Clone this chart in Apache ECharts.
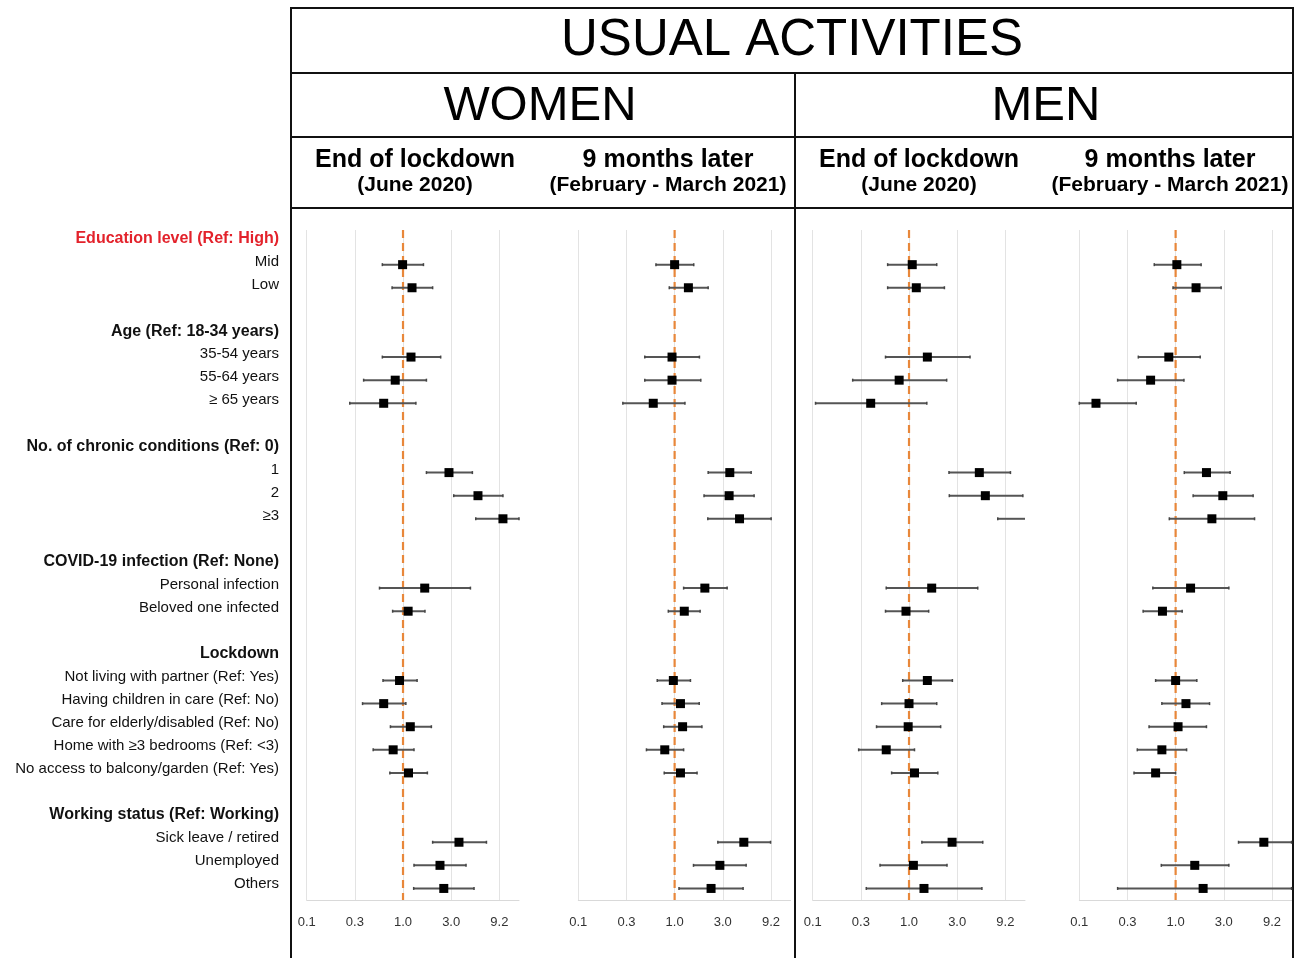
<!DOCTYPE html>
<html>
<head>
<meta charset="utf-8">
<script src="https://cdn.jsdelivr.net/npm/echarts@6/dist/echarts.min.js"></script>
<style>
html,body{margin:0;padding:0;background:#fff;}
#chart{width:1296px;height:958px;}
</style>
</head>
<body>
<div id="chart"></div>
<script>
// ---- Row labels (29 slots, '' = spacer) ----
const rowLabels = [
  'Education level (Ref: High)', 'Mid', 'Low', '',
  'Age (Ref: 18-34 years)', '35-54 years', '55-64 years', '≥ 65 years', '',
  'No. of chronic conditions (Ref: 0)', '1', '2', '≥3', '',
  'COVID-19 infection (Ref: None)', 'Personal infection', 'Beloved one infected', '',
  'Lockdown', 'Not living with partner (Ref: Yes)', 'Having children in care (Ref: No)',
  'Care for elderly/disabled (Ref: No)', 'Home with ≥3 bedrooms (Ref: <3)',
  'No access to balcony/garden (Ref: Yes)', '',
  'Working status (Ref: Working)', 'Sick leave / retired', 'Unemployed', 'Others'
];
const headerRows = [0, 4, 9, 14, 18, 25];
const redHeaderRows = [0];
const itemRows = [1, 2, 5, 6, 7, 10, 11, 12, 15, 16, 19, 20, 21, 22, 23, 26, 27, 28];

// ---- Tick labels ----
const tickLabels = ['0.1', '0.3', '1.0', '3.0', '9.2'];
const refValue = 1;

// ---- Women, end of lockdown (June 2020) ----
const womenEndOR = [0.99, 1.24, 1.21, 0.83, 0.63, 3.00, 6.00, 10.9, 1.68, 1.13, 0.92, 0.63, 1.19, 0.79, 1.14, 3.81, 2.42, 2.65];
const womenEndLo = [0.61, 0.77, 0.61, 0.39, 0.28, 1.75, 3.36, 5.69, 0.57, 0.78, 0.62, 0.38, 0.74, 0.49, 0.73, 2.03, 1.30, 1.29];
const womenEndHi = [1.63, 2.03, 2.46, 1.75, 1.36, 5.25, 10.9, 16.0, 5.01, 1.69, 1.40, 1.07, 1.97, 1.30, 1.79, 7.35, 4.51, 5.46];

// ---- Women, 9 months later ----
const women9OR = [1.00, 1.39, 0.94, 0.94, 0.60, 3.74, 3.68, 4.72, 2.06, 1.26, 0.97, 1.15, 1.21, 0.79, 1.15, 5.23, 2.95, 2.39];
const women9Lo = [0.64, 0.88, 0.49, 0.49, 0.29, 2.23, 2.02, 2.21, 1.24, 0.86, 0.66, 0.74, 0.77, 0.51, 0.78, 2.81, 1.57, 1.11];
const women9Hi = [1.58, 2.23, 1.81, 1.87, 1.28, 6.23, 6.69, 10.05, 3.51, 1.84, 1.46, 1.80, 1.92, 1.24, 1.71, 9.91, 5.53, 5.14];

// ---- Men, end of lockdown (June 2020) ----
const menEndOR = [1.08, 1.19, 1.55, 0.79, 0.40, 5.37, 6.20, 22.0, 1.72, 0.93, 1.55, 1.00, 0.98, 0.58, 1.14, 2.80, 1.11, 1.43];
const menEndLo = [0.60, 0.60, 0.57, 0.26, 0.107, 2.60, 2.62, 8.34, 0.58, 0.57, 0.86, 0.52, 0.46, 0.30, 0.66, 1.36, 0.50, 0.36];
const menEndHi = [1.94, 2.33, 4.30, 2.46, 1.53, 11.3, 15.2, 60.0, 5.17, 1.60, 2.82, 1.94, 2.13, 1.14, 1.99, 5.83, 2.48, 5.71];

// ---- Men, 9 months later ----
const men9OR = [1.03, 1.63, 0.85, 0.55, 0.149, 2.09, 3.09, 2.38, 1.43, 0.73, 1.00, 1.28, 1.06, 0.72, 0.62, 8.24, 1.58, 1.93];
const men9Lo = [0.60, 0.94, 0.41, 0.25, 0.10, 1.23, 1.52, 0.86, 0.58, 0.46, 0.62, 0.72, 0.53, 0.40, 0.37, 4.50, 0.71, 0.25];
const men9Hi = [1.84, 2.97, 1.80, 1.22, 0.39, 3.68, 6.38, 6.60, 3.57, 1.17, 1.66, 2.25, 2.09, 1.30, 1.00, 16.0, 3.57, 16.0];

// ---- Layout ----
const FONT = 'Liberation Sans, Arial, sans-serif';
const plotTop = 230, plotHeight = 670, plotWidth = 212.3;
const panelLefts = [306.7, 578.3, 812.7, 1079.3];
const panelData = [
  [womenEndOR, womenEndLo, womenEndHi],
  [women9OR, women9Lo, women9Hi],
  [menEndOR, menEndLo, menEndHi],
  [men9OR, men9Lo, men9Hi]
];

function tickFormatter(v) {
  const k = Math.log10(v) * 2;
  const r = Math.round(k);
  if (Math.abs(k - r) < 0.03 && r >= -2 && r <= 2) return tickLabels[r + 2];
  return '';
}

function renderBar(params, api) {
  const cs = params.coordSys;
  const lo = api.value(0), hi = api.value(1), row = api.value(2), or = api.value(3);
  const pLo = api.coord([lo, row]);
  const pHi = api.coord([hi, row]);
  const pOr = api.coord([or, row]);
  const xmin = cs.x, xmax = cs.x + cs.width;
  const x0 = Math.max(xmin, pLo[0]);
  const x1 = Math.min(xmax, pHi[0]);
  const y = pOr[1];
  const children = [];
  if (x1 > x0) {
    children.push({type: 'line', shape: {x1: x0, y1: y, x2: x1, y2: y},
      style: {stroke: '#555', lineWidth: 2}});
    if (pLo[0] >= xmin) children.push({type: 'line', shape: {x1: x0, y1: y - 1.5, x2: x0, y2: y + 1.5}, style: {stroke: '#444', lineWidth: 1.5}});
    if (pHi[0] <= xmax) children.push({type: 'line', shape: {x1: x1, y1: y - 1.5, x2: x1, y2: y + 1.5}, style: {stroke: '#444', lineWidth: 1.5}});
  }
  if (pOr[0] >= xmin && pOr[0] <= xmax) {
    const s = 9;
    children.push({type: 'rect', shape: {x: pOr[0] - s / 2, y: y - s / 2, width: s, height: s},
      style: {fill: '#000'}});
  }
  return {type: 'group', children};
}

function renderRef(params, api) {
  const cs = params.coordSys;
  const p = api.coord([api.value(0), 0]);
  return {type: 'line', shape: {x1: p[0], y1: cs.y, x2: p[0], y2: cs.y + cs.height},
    style: {stroke: '#e8873a', lineWidth: 2.2, lineDash: [8, 5]}};
}

const grids = [], xAxes = [], yAxes = [], series = [];
panelLefts.forEach((left, i) => {
  grids.push({left: left, top: plotTop, width: plotWidth, height: plotHeight});
  xAxes.push({
    type: 'log', logBase: Math.sqrt(10), gridIndex: i, min: 0.1, max: 16,
    axisLine: {show: true, lineStyle: {color: '#d9d9d9', width: 1}},
    axisTick: {show: false},
    splitLine: {show: true, showMinLine: true, showMaxLine: false, lineStyle: {color: '#e3e3e3', width: 1}},
    axisLabel: {formatter: tickFormatter, color: '#333', fontSize: 13, fontFamily: FONT, margin: 16,
      showMaxLabel: false, hideOverlap: true}
  });
  yAxes.push({type: 'category', gridIndex: i, inverse: true, data: rowLabels.map((_, k) => String(k)), show: false});
  const [orArr, loArr, hiArr] = panelData[i];
  series.push({
    type: 'custom', xAxisIndex: i, yAxisIndex: i, z: 1, silent: true,
    data: [[refValue, 0]], encode: {x: 0, y: 1}, renderItem: renderRef
  });
  series.push({
    type: 'custom', xAxisIndex: i, yAxisIndex: i, z: 3, silent: true,
    dimensions: ['lo', 'hi', 'row', 'or'],
    encode: {x: [0, 1, 3], y: 2},
    data: orArr.map((v, k) => [loArr[k], hiArr[k], itemRows[k], v]),
    renderItem: renderBar
  });
});

// label grid (left column)
grids.push({left: 282, top: 227.5, width: 2, height: 668});
xAxes.push({type: 'value', gridIndex: 4, show: false});
yAxes.push({
  type: 'category', gridIndex: 4, inverse: true,
  data: rowLabels.map((_, k) => String(k)),
  axisLine: {show: false}, axisTick: {show: false}, splitLine: {show: false},
  axisLabel: {
    interval: 0, margin: 3,
    formatter: function (v) {
      const k = +v; const t = rowLabels[k];
      if (!t) return '';
      if (redHeaderRows.includes(k)) return '{r|' + t + '}';
      if (headerRows.includes(k)) return '{h|' + t + '}';
      return '{n|' + t + '}';
    },
    rich: {
      n: {fontSize: 15, fontFamily: FONT, color: '#111'},
      h: {fontSize: 16, fontFamily: FONT, fontWeight: 'bold', color: '#111'},
      r: {fontSize: 16, fontFamily: FONT, fontWeight: 'bold', color: '#e3222b'}
    }
  }
});

function hline(y, x1, x2) {
  return {type: 'line', silent: true, shape: {x1: x1, y1: y, x2: x2, y2: y}, style: {stroke: '#111', lineWidth: 2}};
}
function vline(x, y1, y2) {
  return {type: 'line', silent: true, shape: {x1: x, y1: y1, x2: x, y2: y2}, style: {stroke: '#111', lineWidth: 2}};
}
function txt(s, x, y, font) {
  return {type: 'text', x: x, y: y, silent: true,
    style: {text: s, font: font, fill: '#000', align: 'center', verticalAlign: 'middle',
      textAlign: 'center', textVerticalAlign: 'middle'}};
}

const graphics = [
  vline(291, 8, 958), vline(1293, 8, 958), vline(795, 73, 958),
  hline(8, 290, 1294), hline(73, 290, 1294), hline(137, 290, 1294), hline(208, 290, 1294),
  txt('USUAL ACTIVITIES', 792, 41, 'normal 51px ' + FONT),
  txt('WOMEN', 540, 106, 'normal 49px ' + FONT),
  txt('MEN', 1046, 106, 'normal 49px ' + FONT),
  txt('End of lockdown', 415, 160, 'bold 25px ' + FONT),
  txt('(June 2020)', 415, 185, 'bold 21px ' + FONT),
  txt('9 months later', 668, 160, 'bold 25px ' + FONT),
  txt('(February - March 2021)', 668, 185, 'bold 21px ' + FONT),
  txt('End of lockdown', 919, 160, 'bold 25px ' + FONT),
  txt('(June 2020)', 919, 185, 'bold 21px ' + FONT),
  txt('9 months later', 1170, 160, 'bold 25px ' + FONT),
  txt('(February - March 2021)', 1170, 185, 'bold 21px ' + FONT)
];

const chart = echarts.init(document.getElementById('chart'), null, {renderer: 'canvas'});
chart.setOption({
  backgroundColor: '#fff',
  animation: false,
  grid: grids,
  xAxis: xAxes,
  yAxis: yAxes,
  series: series,
  graphic: {elements: graphics}
});
</script>
</body>
</html>
